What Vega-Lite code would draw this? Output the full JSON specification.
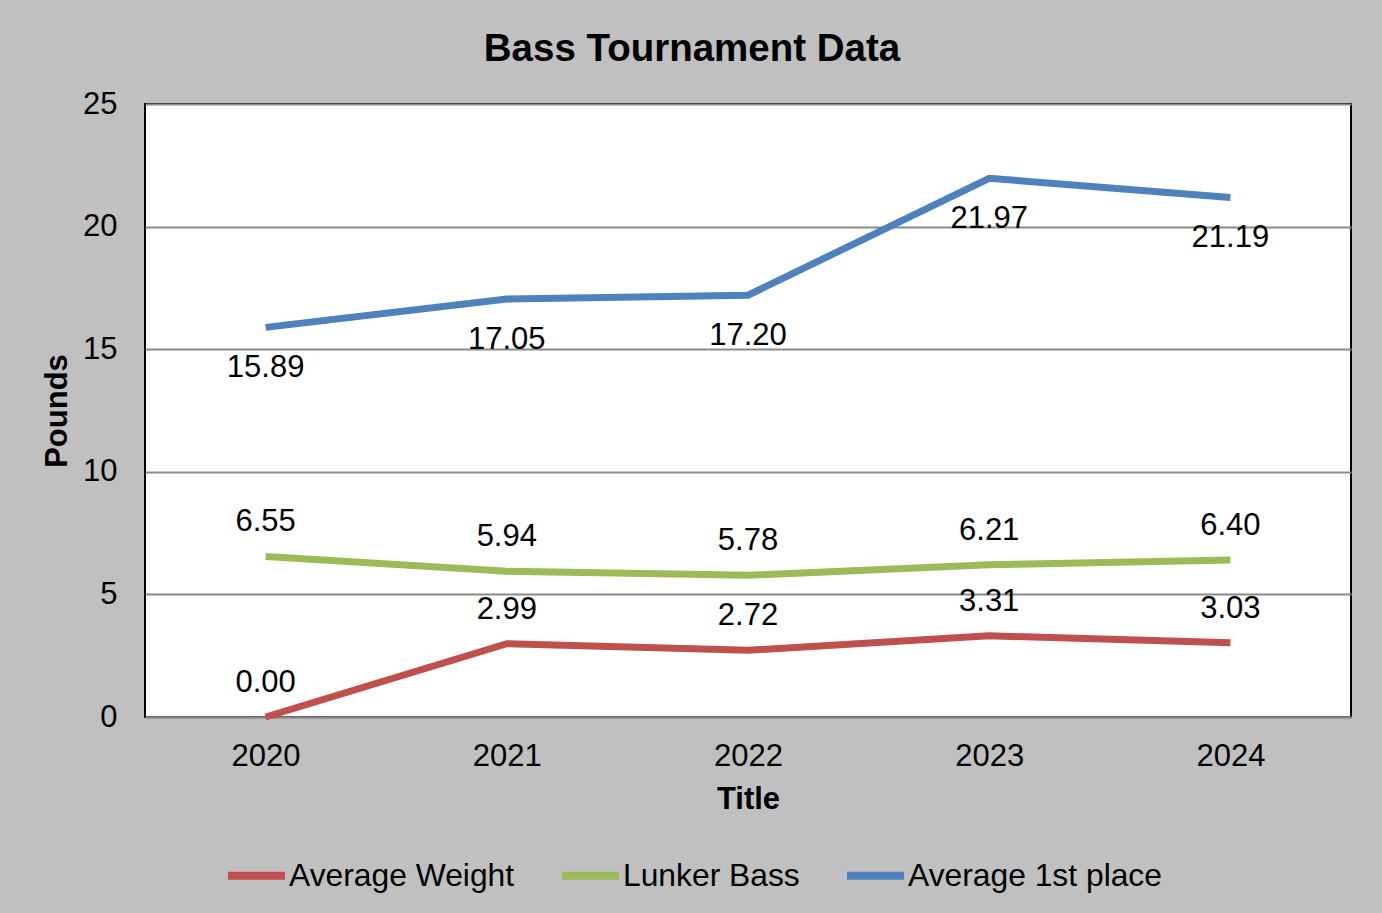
{
  "$schema": "https://vega.github.io/schema/vega-lite/v6.json",
  "autosize": {"type": "none"},
  "padding": {"left": 145, "top": 104, "right": 31, "bottom": 196},
  "width": 1206,
  "height": 613,
  "background": "#c0c0c0",
  "config": {
    "font": "Liberation Sans",
    "view": {"fill": "white", "stroke": "black", "strokeWidth": 2},
    "axis": {"labelFont": "Liberation Sans", "titleFont": "Liberation Sans", "labelColor": "black", "titleColor": "black"}
  },
  "title": {
    "text": "Bass Tournament Data",
    "fontSize": 38.5,
    "fontWeight": "bold",
    "color": "black",
    "font": "Liberation Sans",
    "anchor": "middle",
    "frame": "group",
    "dx": -56,
    "baseline": "alphabetic",
    "offset": -11
  },
  "data": {
    "values": [
      {"year": "2020", "series": "Average Weight", "value": 0.00},
      {"year": "2021", "series": "Average Weight", "value": 2.99},
      {"year": "2022", "series": "Average Weight", "value": 2.72},
      {"year": "2023", "series": "Average Weight", "value": 3.31},
      {"year": "2024", "series": "Average Weight", "value": 3.03},
      {"year": "2020", "series": "Lunker Bass", "value": 6.55},
      {"year": "2021", "series": "Lunker Bass", "value": 5.94},
      {"year": "2022", "series": "Lunker Bass", "value": 5.78},
      {"year": "2023", "series": "Lunker Bass", "value": 6.21},
      {"year": "2024", "series": "Lunker Bass", "value": 6.40},
      {"year": "2020", "series": "Average 1st place", "value": 15.89},
      {"year": "2021", "series": "Average 1st place", "value": 17.05},
      {"year": "2022", "series": "Average 1st place", "value": 17.20},
      {"year": "2023", "series": "Average 1st place", "value": 21.97},
      {"year": "2024", "series": "Average 1st place", "value": 21.19}
    ]
  },
  "encoding": {
    "x": {
      "field": "year",
      "type": "ordinal",
      "scale": {"type": "point", "padding": 0.5},
      "axis": {
        "title": "Title",
        "labelAngle": 0,
        "labelFontSize": 31,
        "titleFontSize": 31,
        "titleFontWeight": "bold",
        "labelPadding": 24,
        "titlePadding": 13,
        "ticks": false,
        "domainColor": "#898989",
        "domainWidth": 2,
        "grid": false
      }
    },
    "y": {
      "field": "value",
      "type": "quantitative",
      "scale": {"domain": [0, 25], "nice": false, "zero": true},
      "axis": {
        "title": "Pounds",
        "values": [0, 5, 10, 15, 20, 25],
        "labelFontSize": 31,
        "titleFontSize": 31,
        "titleFontWeight": "bold",
        "labelPadding": 28,
        "titlePadding": 9,
        "ticks": false,
        "domain": false,
        "grid": true,
        "gridColor": "#898989",
        "gridWidth": 2
      }
    }
  },
  "layer": [
    {
      "mark": {"type": "line", "strokeWidth": 7},
      "encoding": {
        "color": {
          "field": "series",
          "type": "nominal",
          "sort": ["Average Weight", "Lunker Bass", "Average 1st place"],
          "scale": {
            "domain": ["Average Weight", "Lunker Bass", "Average 1st place"],
            "range": ["#C0504D", "#9BBB59", "#4F81BD"]
          },
          "legend": {
            "title": null,
            "orient": "none",
            "direction": "horizontal",
            "legendX": 79,
            "legendY": 739,
            "labelFontSize": 31.8,
            "labelColor": "black",
            "labelFont": "Liberation Sans",
            "labelLimit": 500,
            "symbolType": "stroke",
            "symbolSize": 3249,
            "symbolStrokeWidth": 8,
            "labelOffset": 0,
            "columnPadding": 31
          }
        }
      }
    },
    {
      "transform": [{"filter": "datum.series === 'Average 1st place'"}],
      "mark": {"type": "text", "fontSize": 31, "color": "black", "dy": 41, "baseline": "middle"},
      "encoding": {"text": {"field": "value", "type": "quantitative", "format": ".2f"}}
    },
    {
      "transform": [{"filter": "datum.series !== 'Average 1st place'"}],
      "mark": {"type": "text", "fontSize": 31, "color": "black", "dy": -34, "baseline": "middle"},
      "encoding": {"text": {"field": "value", "type": "quantitative", "format": ".2f"}}
    }
  ]
}
